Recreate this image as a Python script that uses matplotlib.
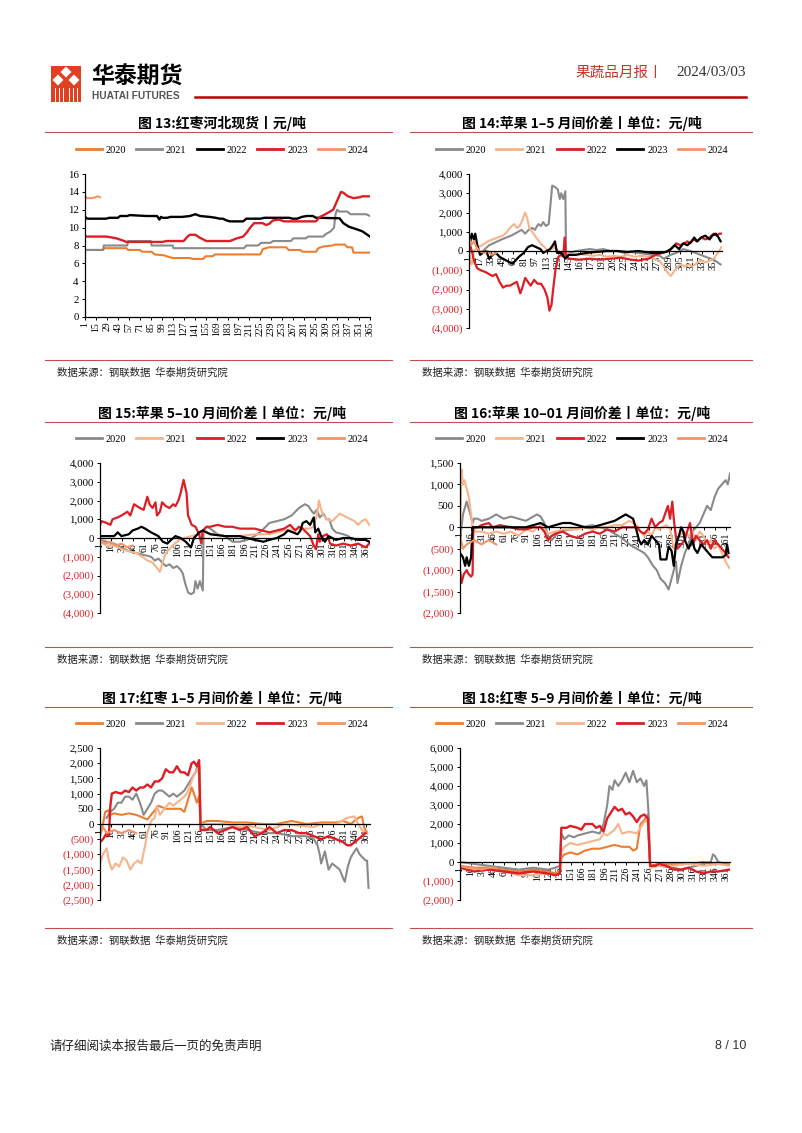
import matplotlib
matplotlib.use('Agg')
import matplotlib.pyplot as plt
import numpy as np
from matplotlib.patches import Polygon, Rectangle
from matplotlib.lines import Line2D

# ---------------- DATA ----------------
years = ['2020', '2021', '2022', '2023', '2024']

# Chart 13: 红枣河北现货 (元/吨) -- (day, value)
c13_2020 = [(1,7.5),(24,7.5),(26,7.7),(54,7.7),(56,7.5),(71,7.5),(74,7.3),(86,7.3),(90,7.0),(102,6.9),(105,6.8),(113,6.6),(135,6.6),(138,6.5),(152,6.5),(155,6.8),(164,6.8),(167,7.0),(225,7.0),(228,7.6),(236,7.8),(258,7.8),(261,7.5),(276,7.5),(279,7.3),(296,7.3),(299,7.7),(306,7.9),(317,8.0),(320,8.1),(333,8.1),(336,7.8),(342,7.8),(344,7.2),(365,7.2)]
c13_2021 = [(1,7.5),(24,7.5),(25,8.0),(55,8.0),(56,8.5),(85,8.5),(86,8.0),(113,8.0),(114,7.7),(204,7.7),(207,8.0),(222,8.0),(226,8.3),(238,8.3),(241,8.5),(264,8.5),(267,8.8),(283,8.8),(286,9.0),(305,9.0),(309,9.3),(315,9.6),(319,10.0),(321,11.5),(323,12.0),(326,11.8),(336,11.8),(340,11.5),(360,11.5),(365,11.3)]
c13_2022 = [(1,11.2),(4,11.0),(28,11.0),(32,11.1),(43,11.1),(46,11.3),(55,11.3),(58,11.4),(80,11.3),(93,11.3),(96,10.9),(98,11.2),(100,11.1),(106,11.1),(110,11.2),(125,11.2),(135,11.3),(142,11.5),(148,11.3),(160,11.2),(168,11.1),(173,11.0),(177,11.0),(182,10.8),(186,10.7),(203,10.7),(207,11.0),(225,11.0),(230,11.1),(262,11.1),(266,11.0),(272,11.0),(278,11.2),(284,11.3),(292,11.3),(296,11.1),(326,11.05),(331,10.5),(338,10.1),(345,9.9),(355,9.6),(360,9.3),(365,9.0)]
c13_2023 = [(1,9.0),(28,9.0),(35,8.9),(41,8.8),(48,8.6),(54,8.4),(100,8.4),(105,8.5),(127,8.5),(132,9.0),(135,9.2),(142,9.2),(147,8.9),(156,8.5),(186,8.5),(195,8.8),(203,9.0),(208,9.5),(212,10.0),(217,10.5),(228,10.5),(232,10.3),(236,10.4),(241,10.8),(249,10.9),(255,10.7),(296,10.7),(301,11.2),(306,11.4),(312,11.7),(318,12.0),(323,13.0),(328,14.0),(331,13.9),(337,13.5),(344,13.3),(352,13.4),(355,13.5),(365,13.5)]
c13_2024 = [(1,13.6),(3,13.3),(10,13.3),(14,13.4),(17,13.5),(20,13.4)]

# Chart 14: 苹果1-5月间价差
c14_2020 = [(14,0),(18,-100),(24,100),(30,300),(36,400),(42,500),(48,600),(55,700),(62,800),(67,900),(72,1000),(77,1100),(82,900),(87,1100),(92,1200),(96,1100),(101,1400),(105,1300),(108,1500),(112,1300),(116,1400),(118,2200),(121,3400),(126,3300),(129,3200),(132,2700),(134,3000),(137,2700),(140,3100),(141,-200),(146,-100),(155,0),(165,50),(175,100),(185,50),(195,100),(205,0),(215,0),(225,-100),(235,-50),(245,-100),(255,-150),(265,-200),(276,-250),(282,-400),(287,-300),(292,-200),(300,-100),(310,100),(320,0),(328,-100),(335,-200),(342,-300),(350,-400),(356,-500),(360,-600),(364,-700)]
c14_2021 = [(1,300),(3,-600),(5,-700),(8,0),(14,200),(20,300),(28,500),(35,600),(42,700),(50,800),(56,1000),(60,1200),(66,1400),(70,1200),(74,1300),(78,1600),(82,2000),(85,1700),(88,1200),(92,1000),(96,800),(100,600),(104,400),(110,200),(115,0),(120,100),(124,200),(130,0),(136,-100),(142,-100),(150,-200),(160,-150),(170,-200),(180,-250),(190,-200),(200,-300),(210,-250),(220,-300),(230,-200),(240,-300),(250,-250),(260,-300),(268,-400),(276,-500),(282,-800),(287,-1100),(292,-1300),(296,-1100),(300,-900),(306,-700),(312,-800),(318,-700),(324,-800),(330,-600),(336,-500),(342,-600),(348,-500),(354,-400),(358,-200),(362,0),(365,200)]
c14_2022 = [(1,500),(5,0),(9,-600),(13,-900),(18,-1000),(25,-1100),(30,-1200),(35,-1300),(40,-1200),(45,-1600),(50,-1900),(55,-1800),(60,-1800),(65,-1700),(70,-1600),(75,-2200),(78,-1900),(82,-1400),(86,-1600),(90,-1800),(95,-1500),(100,-1700),(105,-1700),(110,-2000),(114,-2400),(117,-3100),(120,-2800),(123,-1800),(126,-900),(130,-300),(134,-200),(137,-300),(139,700),(141,-300),(146,-400),(160,-450),(175,-400),(190,-450),(205,-400),(220,-350),(235,-450),(245,-500),(252,-450),(260,-400),(270,-200),(280,-100),(290,0),(295,200),(300,400),(306,300),(312,400),(316,500),(320,400),(325,600),(330,500),(336,700),(342,600),(348,700),(354,900),(358,800),(362,900),(365,900)]
c14_2023 = [(1,800),(3,500),(5,900),(8,600),(10,900),(13,300),(17,-200),(21,-100),(26,0),(30,-400),(35,-200),(40,-100),(45,-300),(50,-400),(55,-500),(60,-600),(64,-650),(68,-500),(73,-300),(80,-100),(86,200),(92,300),(98,200),(104,100),(108,-100),(113,0),(118,100),(122,300),(125,500),(128,-100),(134,-100),(140,-400),(145,-200),(155,-200),(170,-100),(185,-50),(200,0),(215,0),(230,-50),(245,0),(255,-50),(265,-100),(275,-100),(285,-50),(292,100),(298,300),(304,100),(310,400),(316,300),(322,500),(326,700),(330,500),(336,700),(342,800),(348,600),(352,800),(357,900),(361,700),(364,500)]
c14_2024 = [(1,700),(4,300),(8,500),(12,200),(16,0),(22,-100),(28,0),(34,-200),(40,-100)]

# Chart 15: 苹果5-10月间价差
c15_2020 = [(1,-100),(10,-200),(20,-300),(30,-500),(40,-700),(50,-800),(60,-900),(70,-1000),(75,-1200),(80,-1100),(85,-1300),(90,-1500),(95,-1400),(100,-1600),(105,-1500),(110,-1700),(113,-1900),(116,-2400),(120,-2900),(124,-3000),(128,-2900),(130,-2300),(133,-2700),(136,-2300),(140,-2800),(141,400),(145,600),(150,500),(160,200),(170,100),(180,-200),(190,-200),(200,-100),(210,100),(220,400),(230,800),(240,900),(250,1000),(260,1200),(270,1600),(278,1800),(283,1700),(286,1500),(290,1300),(294,1500),(298,1100),(303,1300),(307,1000),(311,1000),(315,500),(320,300),(330,200),(337,100),(341,-100)]
c15_2021 = [(1,-200),(10,-400),(20,-400),(30,-600),(40,-700),(50,-800),(58,-1000),(65,-1200),(72,-1300),(78,-1600),(82,-1800),(85,-1400),(88,-1000),(92,-700),(97,-500),(102,-300),(108,-100),(115,0),(125,100),(135,200),(145,300),(155,200),(170,100),(190,100),(210,200),(230,200),(250,400),(270,500),(283,500),(290,600),(294,1200),(297,2000),(300,1500),(303,1200),(308,1000),(315,900),(320,1100),(325,1300),(330,1200),(335,1100),(340,1000),(345,900),(350,700),(355,900),(360,1000),(365,700)]
c15_2022 = [(1,700),(3,900),(10,800),(15,700),(18,1000),(25,1100),(30,1200),(38,1400),(42,1200),(47,1800),(55,1600),(60,1500),(65,2200),(68,1800),(72,1600),(76,1900),(78,1200),(82,1400),(85,1900),(90,1700),(95,1600),(100,1800),(103,1700),(107,2000),(110,2400),(114,3100),(118,2400),(120,1200),(125,700),(130,600),(135,200),(138,-300),(140,400),(145,600),(150,600),(160,700),(170,600),(180,600),(190,500),(200,500),(210,500),(220,400),(230,300),(240,400),(250,500),(258,700),(265,400),(270,600),(275,500),(280,300),(285,100),(290,-400),(293,-600),(296,200),(298,-200),(302,100),(308,200),(312,-300),(320,-400),(330,-300),(340,-400),(350,-300),(360,-500),(365,-300)]
c15_2023 = [(1,100),(10,100),(20,100),(25,300),(30,100),(40,200),(45,400),(52,500),(57,600),(62,500),(70,300),(80,100),(86,-200),(92,-300),(97,-100),(103,100),(110,0),(117,-200),(124,-500),(128,0),(135,300),(140,400),(145,300),(150,200),(170,100),(190,100),(200,0),(210,-100),(222,-200),(230,-100),(240,0),(250,200),(255,400),(262,300),(268,200),(272,400),(275,800),(280,900),(285,700),(290,1100),(292,300),(296,500),(300,100),(305,-200),(310,100),(320,-100),(330,0),(340,0),(350,-100),(360,-100),(365,-200)]
c15_2024 = [(1,-100),(8,-300),(15,-200),(22,-400),(30,-300),(38,-500),(45,-400)]

# Chart 16: 苹果10-01月间价差
c16_2020 = [(1,-300),(5,300),(10,600),(15,300),(18,100),(20,200),(25,200),(30,150),(40,200),(50,300),(60,200),(70,250),(80,200),(90,150),(100,250),(105,300),(110,250),(115,100),(120,-200),(125,-300),(135,-100),(150,-50),(165,0),(180,50),(190,0),(200,-50),(210,-150),(220,-250),(230,-400),(240,-500),(250,-600),(255,-700),(262,-900),(267,-1000),(272,-1200),(278,-1300),(283,-1450),(287,-1200),(290,-1000),(293,-800),(295,-1300),(300,-900),(305,-600),(310,-400),(315,-100),(320,0),(325,100),(330,300),(335,500),(340,400),(345,700),(350,900),(355,1000),(360,1100),(363,1000),(366,1250)]
c16_2021 = [(1,-200),(3,1350),(5,1000),(7,1100),(10,900),(13,700),(16,300),(18,0),(22,-100),(30,-100),(40,-150),(50,-100),(60,-150),(70,-100),(80,-200),(90,-50),(100,-100),(110,50),(120,-150),(130,-100),(140,-50),(150,-50),(160,-50),(170,0),(180,-50),(190,0),(200,0),(210,50),(220,50),(230,150),(240,50),(245,-100),(250,-200),(255,-100),(260,-200),(265,0),(270,-50),(275,0),(280,50),(285,-50),(290,-500),(294,-300),(298,-200),(303,-100),(310,-200),(315,-100),(320,-300),(325,-100),(330,-200),(335,-400),(340,-300),(345,-500),(350,-400),(355,-600),(360,-800),(365,-950)]
c16_2022 = [(1,-1000),(3,-1300),(6,-1100),(10,-1000),(13,-1100),(16,-1150),(18,-1100),(19,0),(25,0),(30,50),(40,100),(45,0),(55,50),(70,0),(80,-50),(90,-50),(100,0),(110,0),(115,-100),(120,-300),(125,-200),(130,-150),(140,-100),(150,-200),(160,-250),(170,-150),(180,-100),(190,-150),(200,-50),(210,-100),(220,0),(230,0),(240,0),(245,-100),(250,-150),(255,-50),(260,200),(265,0),(270,100),(275,150),(280,400),(282,500),(285,200),(288,600),(290,200),(292,-100),(295,-500),(300,-400),(305,-300),(308,-100),(312,100),(316,-400),(320,-200),(325,-300),(330,-400),(335,-300),(340,-500),(345,-300),(350,-400),(355,-500),(360,-600),(364,-700)]
c16_2023 = [(1,-600),(5,-700),(8,-900),(10,-700),(13,-900),(16,-700),(18,0),(25,0),(35,0),(50,0),(70,0),(90,0),(100,50),(110,100),(115,50),(120,0),(130,50),(140,100),(150,100),(160,50),(170,0),(180,0),(190,50),(200,100),(210,150),(220,250),(225,300),(230,250),(235,200),(240,-100),(243,-300),(246,-400),(250,-300),(255,-400),(260,-200),(265,-300),(270,-400),(272,-750),(280,-750),(283,-450),(287,-550),(290,-900),(293,-400),(297,-200),(300,0),(303,-100),(305,-300),(310,-500),(315,-300),(318,-500),(322,-600),(327,-400),(332,-500),(337,-600),(342,-700),(350,-700),(356,-700),(360,-650),(362,-400),(364,-600)]
c16_2024 = [(1,-200),(5,-500),(10,-400),(20,-300),(30,-400),(40,-300),(50,-400)]

# Chart 17: 红枣1-5月间价差
c17_2020 = [(1,-300),(5,0),(8,400),(12,450),(15,300),(20,350),(30,300),(40,350),(50,300),(60,200),(65,150),(70,300),(80,600),(90,500),(100,500),(110,500),(115,400),(120,800),(125,1200),(128,1000),(132,700),(135,900),(137,0),(145,100),(160,100),(180,50),(200,50),(220,0),(240,0),(260,100),(280,0),(300,50),(320,50),(330,100),(340,0),(350,200),(355,250),(358,-100),(362,-300)]
c17_2021 = [(10,200),(15,400),(20,500),(25,700),(30,700),(35,900),(40,900),(45,800),(50,1000),(55,700),(60,300),(65,500),(70,700),(75,1000),(80,1100),(85,1100),(90,1000),(95,900),(100,1000),(105,900),(110,1000),(115,1100),(120,1300),(125,1500),(130,1700),(133,1900),(135,1600),(137,0),(145,-200),(160,-200),(180,-100),(200,-200),(220,-300),(240,-300),(260,-400),(280,-400),(290,-500),(295,-700),(298,-1000),(300,-1300),(305,-900),(310,-1500),(315,-1300),(320,-1400),(325,-1500),(330,-1800),(332,-1900),(336,-1400),(340,-1100),(345,-900),(348,-800),(352,-1000),(356,-1100),(360,-1200),(362,-1200),(364,-2100)]
c17_2022 = [(1,-1300),(5,-1000),(10,-800),(13,-1200),(17,-1500),(22,-1300),(27,-1400),(32,-1100),(37,-1200),(42,-1500),(47,-1300),(52,-1200),(57,-1300),(62,-700),(65,-300),(70,100),(75,200),(78,600),(82,300),(88,500),(95,700),(100,600),(105,700),(110,800),(115,900),(118,1000),(122,1200),(126,1500),(130,1700),(133,1800),(136,1900),(137,0),(150,0),(170,0),(190,-100),(200,-50),(210,-100),(230,-200),(250,0),(270,-50),(290,-100),(300,0),(320,0),(335,200),(345,250),(350,0),(355,-200),(362,-300)]
c17_2023 = [(1,-600),(5,-500),(10,-300),(13,-400),(15,600),(17,1000),(22,1050),(30,1000),(35,1100),(40,1050),(45,1200),(50,1100),(55,1200),(60,1200),(65,1300),(70,1200),(75,1400),(80,1400),(85,1500),(90,1800),(95,1700),(100,1700),(105,1900),(110,1700),(115,1700),(120,1600),(125,2000),(128,2050),(132,1900),(135,2100),(137,-200),(145,-200),(150,-100),(160,-300),(170,-200),(180,-100),(190,-200),(200,-100),(210,-400),(220,-300),(230,-100),(240,-300),(250,-200),(260,-200),(270,-300),(280,-300),(290,-400),(300,-500),(310,-400),(320,-500),(330,-600),(335,-700),(340,-700),(345,-600),(350,-500),(355,-400),(360,-300)]
c17_2024 = [(1,-400),(5,-100),(10,-300),(20,-200),(30,-300),(40,-200),(50,-300)]

# Chart 18: 红枣5-9月间价差
c18_2020 = [(1,-200),(20,-300),(40,-300),(60,-400),(80,-500),(100,-400),(120,-500),(130,-600),(136,-500),(138,200),(142,400),(150,500),(160,400),(170,600),(180,700),(190,700),(200,800),(210,900),(220,800),(230,800),(235,600),(240,700),(245,2000),(250,2200),(255,2500),(258,-200),(270,-100),(290,-100),(310,-100),(330,0),(350,-100),(365,-100)]
c18_2021 = [(1,0),(20,-100),(40,-200),(60,-300),(80,-400),(100,-300),(120,-400),(130,-300),(136,-200),(138,1500),(142,1200),(148,1400),(155,1300),(160,1400),(170,1500),(180,1600),(190,1500),(195,2000),(200,3000),(203,4000),(207,3800),(210,4300),(215,4000),(220,4300),(225,4700),(230,4200),(235,4800),(240,4200),(245,4400),(250,4000),(253,4300),(256,2500),(258,-200),(270,-200),(290,-300),(300,-400),(310,-300),(320,-200),(330,-100),(340,0),(343,400),(346,300),(350,0),(360,-100)]
c18_2022 = [(1,-300),(20,-400),(40,-400),(60,-500),(80,-700),(100,-700),(120,-600),(130,-700),(136,-600),(138,500),(142,800),(150,1000),(160,900),(170,1000),(180,1100),(190,1200),(195,1500),(200,1400),(210,1700),(215,2000),(220,1500),(230,1600),(240,1500),(245,1800),(250,2100),(255,2200),(258,-300),(270,-200),(290,-200),(310,-100),(330,-200),(350,-100),(365,-200)]
c18_2023 = [(1,-300),(20,-500),(40,-400),(60,-500),(80,-600),(100,-500),(120,-600),(130,-700),(136,-600),(138,1800),(145,1800),(150,1900),(160,1800),(165,1700),(170,2000),(180,2000),(185,1800),(190,1900),(195,1600),(200,2300),(205,2600),(210,2900),(215,2700),(220,2800),(225,2500),(230,2600),(235,2400),(240,2100),(245,2400),(250,2500),(255,2300),(258,-200),(265,-200),(270,-100),(280,-200),(290,-400),(300,-400),(310,-300),(320,-500),(330,-600),(340,-500),(350,-500),(365,-400)]
c18_2024 = [(1,-200),(10,-300),(20,-300),(30,-400),(40,-300),(50,-300)]

# tick values
c13_yticks = [0, 2, 4, 6, 8, 10, 12, 14, 16]
c13_xticks = list(range(1, 366, 14))
c14_yticks = [-4000, -3000, -2000, -1000, 0, 1000, 2000, 3000, 4000]
c14_xticks = list(range(1, 366, 16))
c15_yticks = [-4000, -3000, -2000, -1000, 0, 1000, 2000, 3000, 4000]
c16_yticks = [-2000, -1500, -1000, -500, 0, 500, 1000, 1500]
c17_yticks = [-2500, -2000, -1500, -1000, -500, 0, 500, 1000, 1500, 2000, 2500]
c18_yticks = [-2000, -1000, 0, 1000, 2000, 3000, 4000, 5000, 6000]
x15_ticks = list(range(1, 366, 15))

titles = ['图 13:红枣河北现货丨元/吨', '图 14:苹果 1–5 月间价差丨单位：元/吨',
          '图 15:苹果 5–10 月间价差丨单位：元/吨', '图 16:苹果 10–01 月间价差丨单位：元/吨',
          '图 17:红枣 1–5 月间价差丨单位：元/吨', '图 18:红枣 5–9 月间价差丨单位：元/吨']
source = '数据来源：钢联数据  华泰期货研究院'

# ---------------- STYLE ----------------
ORANGE = '#ED7D31'
GREY = '#8A8A8A'
BLACK = '#000000'
RED = '#DC1E26'
PEACH = '#F6B48A'
SALMON = '#F29466'
LINERED = '#C0504D'

CJK = ['Noto Sans CJK SC', 'DejaVu Sans']
SERIF = ['Liberation Serif', 'DejaVu Serif']
plt.rcParams['font.family'] = CJK

W, H = 802, 1133
fig = plt.figure(figsize=(W / 100, H / 100), dpi=100)


def fx(x):
    return x / W


def fy(y):
    return 1 - y / H


def hline(x0, x1, y, color, lw):
    fig.add_artist(Line2D([fx(x0), fx(x1)], [fy(y), fy(y)], color=color, lw=lw,
                          transform=fig.transFigure))


def fmt(v):
    if v < 0:
        return '({:,})'.format(-v)
    return '{:,}'.format(v)


def make_panel(rect, series, colors, widths, yticks, xticks, title, px_center,
               panel_x, title_y, legend_y, bottom_y, spread=True):
    x0, y0, x1, y1 = rect
    ax = fig.add_axes([fx(x0), fy(y1), (x1 - x0) / W, (y1 - y0) / H])
    handles = []
    for s, c, lw, lab in zip(series, colors, widths, years):
        d = np.array(s, dtype=float)
        h, = ax.plot(d[:, 0], d[:, 1], color=c, lw=lw, label=lab, solid_joinstyle='round')
        handles.append(h)
    ax.set_xlim(1, 366 if spread else 365)
    ax.set_ylim(yticks[0], yticks[-1])
    ax.set_yticks(yticks)
    if spread:
        ax.set_yticklabels([fmt(v) for v in yticks], family=SERIF, fontsize=7.8)
        for lab, v in zip(ax.get_yticklabels(), yticks):
            lab.set_color(RED if v < 0 else 'black')
        ax.spines['bottom'].set_position(('data', 0))
    else:
        ax.set_yticklabels([str(v) for v in yticks], family=SERIF, fontsize=7.8)
    ax.set_xticks(xticks)
    ax.set_xticklabels([str(v) for v in xticks], family=SERIF, fontsize=7, rotation=90)
    for sp in ['top', 'right']:
        ax.spines[sp].set_visible(False)
    for sp in ['left', 'bottom']:
        ax.spines[sp].set_linewidth(0.9)
        ax.spines[sp].set_color('black')
    ax.tick_params(axis='both', length=2.5, width=0.7, pad=2)
    ax.tick_params(axis='x', pad=1)
    ax.set_facecolor('none')
    # title & separators
    fig.text(fx(px_center), fy(title_y), title, ha='center', va='center',
             fontsize=10, fontweight='bold', family=CJK)
    hline(panel_x[0], panel_x[1], title_y + 9, LINERED, 0.8)
    hline(panel_x[0], panel_x[1], bottom_y, LINERED, 0.8)
    fig.text(fx(panel_x[0] + 12), fy(bottom_y + 13), source, ha='left', va='center',
             fontsize=7.5, family=CJK, color='#222222')
    leg = ax.legend(handles=handles, loc='center', bbox_to_anchor=(fx(px_center), fy(legend_y)),
                    bbox_transform=fig.transFigure, ncol=5, frameon=False,
                    prop={'family': SERIF, 'size': 7.5}, handlelength=2.5,
                    columnspacing=1.0, handletextpad=0.35)
    for l in leg.get_lines():
        l.set_linewidth(2.0)
    return ax


LP = (45, 392)
RP = (410, 752)
LC, RC = 222, 582

make_panel((85, 174, 370, 317), [c13_2020, c13_2021, c13_2022, c13_2023, c13_2024],
           [ORANGE, GREY, BLACK, RED, SALMON], [1.5, 1.5, 1.7, 1.7, 1.5],
           c13_yticks, c13_xticks, titles[0], LC, LP, 123, 150, 360, spread=False)
make_panel((469, 174, 722, 328), [c14_2020, c14_2021, c14_2022, c14_2023, c14_2024],
           [GREY, PEACH, RED, BLACK, SALMON], [1.5, 1.5, 1.6, 1.6, 1.5],
           c14_yticks, c14_xticks, titles[1], RC, RP, 123, 150, 360)
make_panel((100, 463, 370, 613), [c15_2020, c15_2021, c15_2022, c15_2023, c15_2024],
           [GREY, PEACH, RED, BLACK, SALMON], [1.5, 1.5, 1.6, 1.6, 1.5],
           c15_yticks, x15_ticks, titles[2], LC, LP, 413, 439, 647)
make_panel((460, 463, 730, 613), [c16_2020, c16_2021, c16_2022, c16_2023, c16_2024],
           [GREY, PEACH, RED, BLACK, SALMON], [1.5, 1.5, 1.6, 1.6, 1.5],
           c16_yticks, x15_ticks, titles[3], RC, RP, 413, 439, 647)
make_panel((100, 748, 370, 900), [c17_2020, c17_2021, c17_2022, c17_2023, c17_2024],
           [ORANGE, GREY, PEACH, RED, SALMON], [1.5, 1.5, 1.5, 1.7, 1.5],
           c17_yticks, x15_ticks, titles[4], LC, LP, 698, 724, 928)
make_panel((460, 748, 730, 900), [c18_2020, c18_2021, c18_2022, c18_2023, c18_2024],
           [ORANGE, GREY, PEACH, RED, SALMON], [1.5, 1.5, 1.5, 1.7, 1.5],
           c18_yticks, x15_ticks, titles[5], RC, RP, 698, 724, 928)

# ---------------- HEADER / FOOTER ----------------
hax = fig.add_axes([0, 0, 1, 1])
hax.set_xlim(0, W)
hax.set_ylim(H, 0)
hax.axis('off')
hax.add_patch(Rectangle((51, 66), 30, 36, color='#E0401F', lw=0))
for cx, cy, r in [(66, 72, 5.5), (58, 80, 5.5), (74, 80, 5.5)]:
    hax.add_patch(Polygon([(cx, cy - r), (cx + r, cy), (cx, cy + r), (cx - r, cy)],
                          closed=True, color='white', lw=0))
for xs in [55, 59, 63, 69, 73, 77]:
    hax.add_patch(Rectangle((xs, 88), 1.3, 14, color='white', lw=0))
hax.text(91, 77, '华泰期货', fontsize=16.5, fontweight='bold', family=CJK, va='center', ha='left')
hax.text(92, 96, 'HUATAI FUTURES', fontsize=7.3, fontweight='bold', family=['Liberation Sans', 'DejaVu Sans'],
         color='#555555', va='center', ha='left')
hax.plot([195, 746], [97, 97], color='#C00000', lw=1.8)
hax.text(663, 73, '果蔬品月报丨', fontsize=10.5, family=CJK, color='#C0392B', va='center', ha='right')
hax.text(746, 73, '2024/03/03', fontsize=11, family=SERIF, color='#333333', va='center', ha='right')

hax.text(50, 1046, '请仔细阅读本报告最后一页的免责声明', fontsize=9, family=CJK, color='#222222',
         va='center', ha='left')
hax.text(746, 1046, '8 / 10', fontsize=9, family=['Liberation Sans', 'DejaVu Sans'], color='#333333',
         va='center', ha='right')

fig.savefig('out.png', dpi=100, facecolor='white')
